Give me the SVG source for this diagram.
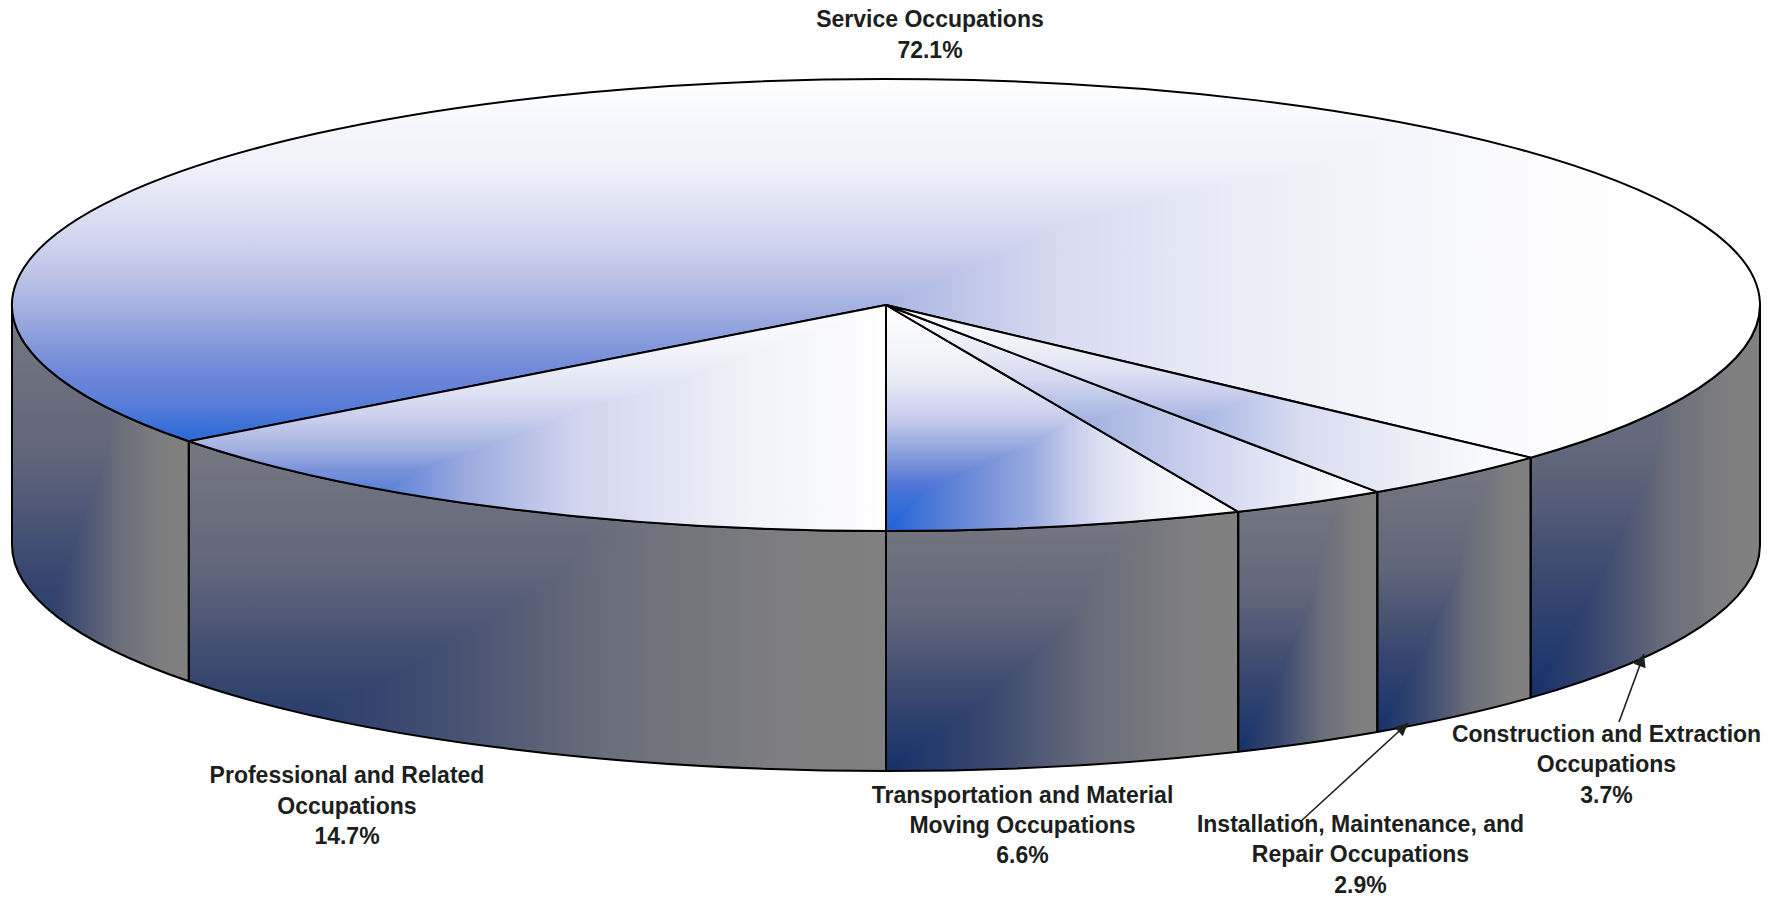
<svg xmlns="http://www.w3.org/2000/svg" xmlns:xlink="http://www.w3.org/1999/xlink" width="1782" height="898" viewBox="0 0 1782 898">
<style>
.lbl{font-family:"Liberation Sans",Arial,sans-serif;font-weight:bold;font-size:23px;fill:#1c201c;text-anchor:middle}
.edge{fill:none;stroke:#000;stroke-width:2;stroke-linejoin:round}
.iso{isolation:isolate}
.lt{mix-blend-mode:lighten}
.sv{fill:url(#sideV)}
.sh{fill:url(#sideH)}
.lead{stroke:#1c201c;stroke-width:1.6;fill:none;marker-end:url(#arr)}
</style>
<defs>
<path id="fSR" d="M1760,305 A874,226 0 0 1 1530.7,457.6 L1530.7,697.6 A874,226 0 0 0 1760,545 Z"/>
<path id="fC" d="M1530.7,457.6 A874,226 0 0 1 1377.3,491.9 L1377.3,731.9 A874,226 0 0 0 1530.7,697.6 Z"/>
<path id="fI" d="M1377.3,491.9 A874,226 0 0 1 1238.2,511.8 L1238.2,751.8 A874,226 0 0 0 1377.3,731.9 Z"/>
<path id="fT" d="M1238.2,511.8 A874,226 0 0 1 886,531 L886,771 A874,226 0 0 0 1238.2,751.8 Z"/>
<path id="fP" d="M886,531 A874,226 0 0 1 188.8,441.3 L188.8,681.3 A874,226 0 0 0 886,771 Z"/>
<path id="fSL" d="M188.8,441.3 A874,226 0 0 1 12,305 L12,545 A874,226 0 0 0 188.8,681.3 Z"/>
<path id="tS" d="M886,305 L1530.7,457.6 A874,226 0 1 0 188.8,441.3 Z"/>
<path id="tP" d="M886,305 L188.8,441.3 A874,226 0 0 0 886,531 Z"/>
<path id="tT" d="M886,305 L886,531 A874,226 0 0 0 1238.2,511.8 Z"/>
<path id="tI" d="M886,305 L1238.2,511.8 A874,226 0 0 0 1377.3,491.9 Z"/>
<path id="tC" d="M886,305 L1377.3,491.9 A874,226 0 0 0 1530.7,457.6 Z"/>

<linearGradient id="sideH" x1="0" y1="0" x2="1" y2="0">
<stop offset="0" stop-color="#15316a"/>
<stop offset="0.3" stop-color="#3a4870"/>
<stop offset="0.6" stop-color="#6a6e7a"/>
<stop offset="0.85" stop-color="#7e7e80"/>
<stop offset="1" stop-color="#808080"/>
</linearGradient>
<linearGradient id="sideV" x1="0" y1="1" x2="0" y2="0">
<stop offset="0" stop-color="#15316a"/>
<stop offset="0.3" stop-color="#3a4870"/>
<stop offset="0.6" stop-color="#60667a"/>
<stop offset="1" stop-color="#767880"/>
</linearGradient>

<linearGradient id="sV" gradientUnits="userSpaceOnUse" x1="0" y1="531" x2="0" y2="79">
<stop offset="0" stop-color="#1a5fd6"/>
<stop offset="0.201" stop-color="#2a68d6"/>
<stop offset="0.283" stop-color="#5a7ed8"/>
<stop offset="0.356" stop-color="#7088d8"/>
<stop offset="0.429" stop-color="#8a9edc"/>
<stop offset="0.504" stop-color="#a8b4e2"/>
<stop offset="0.577" stop-color="#c0c6e8"/>
<stop offset="0.65" stop-color="#d2d6ef"/>
<stop offset="0.8" stop-color="#eff0f9"/>
<stop offset="0.947" stop-color="#fafbfd"/>
<stop offset="1" stop-color="#ffffff"/>
</linearGradient>
<linearGradient id="sH" gradientUnits="userSpaceOnUse" x1="12" y1="0" x2="1760" y2="0">
<stop offset="0" stop-color="#1a5fd6"/>
<stop offset="0.222" stop-color="#4a78d8"/>
<stop offset="0.394" stop-color="#8096da"/>
<stop offset="0.497" stop-color="#a8b4e2"/>
<stop offset="0.595" stop-color="#d6daf0"/>
<stop offset="0.693" stop-color="#e9ebf6"/>
<stop offset="0.792" stop-color="#f5f6fb"/>
<stop offset="0.891" stop-color="#fdfdfe"/>
<stop offset="0.966" stop-color="#ffffff"/>
</linearGradient>

<linearGradient id="pV" gradientUnits="userSpaceOnUse" x1="0" y1="531" x2="0" y2="305">
<stop offset="0" stop-color="#1f62d8"/>
<stop offset="0.137" stop-color="#4a78d8"/>
<stop offset="0.27" stop-color="#7a92da"/>
<stop offset="0.358" stop-color="#a0b0e0"/>
<stop offset="0.49" stop-color="#c8cdec"/>
<stop offset="0.624" stop-color="#e0e3f3"/>
<stop offset="0.8" stop-color="#f2f3f9"/>
<stop offset="1" stop-color="#ffffff"/>
</linearGradient>
<linearGradient id="pH" gradientUnits="userSpaceOnUse" x1="188" y1="0" x2="886" y2="0">
<stop offset="0" stop-color="#1f62d8"/>
<stop offset="0.28" stop-color="#5a80d8"/>
<stop offset="0.39" stop-color="#98a8de"/>
<stop offset="0.553" stop-color="#d0d4ee"/>
<stop offset="0.8" stop-color="#f0f2f8"/>
<stop offset="0.964" stop-color="#fcfcfe"/>
<stop offset="1" stop-color="#ffffff"/>
</linearGradient>

<linearGradient id="trV" gradientUnits="userSpaceOnUse" x1="0" y1="531" x2="0" y2="305">
<stop offset="0" stop-color="#1f62d8"/>
<stop offset="0.137" stop-color="#3a70d8"/>
<stop offset="0.212" stop-color="#5578d6"/>
<stop offset="0.358" stop-color="#90a4dc"/>
<stop offset="0.504" stop-color="#c8cdec"/>
<stop offset="0.655" stop-color="#e6e8f4"/>
<stop offset="0.8" stop-color="#f4f5fa"/>
<stop offset="1" stop-color="#ffffff"/>
</linearGradient>
<linearGradient id="trH" gradientUnits="userSpaceOnUse" x1="886" y1="0" x2="1238" y2="0">
<stop offset="0" stop-color="#1f62d8"/>
<stop offset="0.125" stop-color="#4a78d8"/>
<stop offset="0.23" stop-color="#6a88d8"/>
<stop offset="0.418" stop-color="#9aabe0"/>
<stop offset="0.514" stop-color="#c0c8ea"/>
<stop offset="0.608" stop-color="#dcdff2"/>
<stop offset="0.75" stop-color="#f0f1f8"/>
<stop offset="1" stop-color="#ffffff"/>
</linearGradient>

<linearGradient id="iV" gradientUnits="userSpaceOnUse" x1="0" y1="512" x2="0" y2="305">
<stop offset="0" stop-color="#1f62d8"/>
<stop offset="0.155" stop-color="#4a78d8"/>
<stop offset="0.348" stop-color="#8aa0dc"/>
<stop offset="0.493" stop-color="#b0bce4"/>
<stop offset="0.638" stop-color="#d4d8ef"/>
<stop offset="0.831" stop-color="#eef0f8"/>
<stop offset="1" stop-color="#ffffff"/>
</linearGradient>
<linearGradient id="iH" gradientUnits="userSpaceOnUse" x1="886" y1="0" x2="1377" y2="0">
<stop offset="0" stop-color="#1f62d8"/>
<stop offset="0.232" stop-color="#7088d8"/>
<stop offset="0.436" stop-color="#a8b6e2"/>
<stop offset="0.64" stop-color="#ccd2ee"/>
<stop offset="0.843" stop-color="#eceef8"/>
<stop offset="1" stop-color="#ffffff"/>
</linearGradient>

<linearGradient id="cV" gradientUnits="userSpaceOnUse" x1="0" y1="492" x2="0" y2="305">
<stop offset="0" stop-color="#1f62d8"/>
<stop offset="0.171" stop-color="#5a80d8"/>
<stop offset="0.332" stop-color="#98a8de"/>
<stop offset="0.492" stop-color="#c0c8ea"/>
<stop offset="0.652" stop-color="#dfe2f2"/>
<stop offset="0.813" stop-color="#f2f3f9"/>
<stop offset="1" stop-color="#ffffff"/>
</linearGradient>
<linearGradient id="cH" gradientUnits="userSpaceOnUse" x1="886" y1="0" x2="1531" y2="0">
<stop offset="0" stop-color="#1f62d8"/>
<stop offset="0.332" stop-color="#7a92da"/>
<stop offset="0.487" stop-color="#a8b8e4"/>
<stop offset="0.642" stop-color="#d8dcf0"/>
<stop offset="0.874" stop-color="#f4f5fa"/>
<stop offset="1" stop-color="#ffffff"/>
</linearGradient>

<marker id="arr" viewBox="0 0 10 10" refX="10" refY="5" markerWidth="9" markerHeight="8" markerUnits="strokeWidth" orient="auto">
<path d="M0,0 L10,5 L0,10 Z" fill="#1c201c"/>
</marker>
</defs>

<g id="sides">
<g class="iso"><use xlink:href="#fSR" class="sv"/><use xlink:href="#fSR" class="sh lt"/></g>
<g class="iso"><use xlink:href="#fC" class="sv"/><use xlink:href="#fC" class="sh lt"/></g>
<g class="iso"><use xlink:href="#fI" class="sv"/><use xlink:href="#fI" class="sh lt"/></g>
<g class="iso"><use xlink:href="#fT" class="sv"/><use xlink:href="#fT" class="sh lt"/></g>
<g class="iso"><use xlink:href="#fP" class="sv"/><use xlink:href="#fP" class="sh lt"/></g>
<g class="iso"><use xlink:href="#fSL" class="sv"/><use xlink:href="#fSL" class="sh lt"/></g>
<use xlink:href="#fSR" class="edge"/>
<use xlink:href="#fC" class="edge"/>
<use xlink:href="#fI" class="edge"/>
<use xlink:href="#fT" class="edge"/>
<use xlink:href="#fP" class="edge"/>
<use xlink:href="#fSL" class="edge"/>
</g>

<g id="service">
<g class="iso"><use xlink:href="#tS" fill="url(#sV)"/><use xlink:href="#tS" class="lt" fill="url(#sH)"/></g>
<use xlink:href="#tS" class="edge"/>
<text class="lbl" x="930" y="27">Service Occupations</text>
<text class="lbl" x="930" y="58">72.1%</text>
</g>
<g id="professional">
<g class="iso"><use xlink:href="#tP" fill="url(#pV)"/><use xlink:href="#tP" class="lt" fill="url(#pH)"/></g>
<use xlink:href="#tP" class="edge"/>
<text class="lbl" x="347" y="783">Professional and Related</text>
<text class="lbl" x="347" y="813.5">Occupations</text>
<text class="lbl" x="347" y="844">14.7%</text>
</g>
<g id="transportation">
<g class="iso"><use xlink:href="#tT" fill="url(#trV)"/><use xlink:href="#tT" class="lt" fill="url(#trH)"/></g>
<use xlink:href="#tT" class="edge"/>
<text class="lbl" x="1022.5" y="803">Transportation and Material</text>
<text class="lbl" x="1022.5" y="833">Moving Occupations</text>
<text class="lbl" x="1022.5" y="863">6.6%</text>
</g>
<g id="installation">
<g class="iso"><use xlink:href="#tI" fill="url(#iV)"/><use xlink:href="#tI" class="lt" fill="url(#iH)"/></g>
<use xlink:href="#tI" class="edge"/>
<text class="lbl" x="1360.5" y="831.5">Installation, Maintenance, and</text>
<text class="lbl" x="1360.5" y="861.5">Repair Occupations</text>
<text class="lbl" x="1360.5" y="892.5">2.9%</text>
</g>
<g id="construction">
<g class="iso"><use xlink:href="#tC" fill="url(#cV)"/><use xlink:href="#tC" class="lt" fill="url(#cH)"/></g>
<use xlink:href="#tC" class="edge"/>
<text class="lbl" x="1606.5" y="741.5">Construction and Extraction</text>
<text class="lbl" x="1606.5" y="772.3">Occupations</text>
<text class="lbl" x="1606.5" y="803.3">3.7%</text>
</g>

<g id="connectors">
<line class="lead" x1="1300" y1="822" x2="1408" y2="723"/>
<line class="lead" x1="1619" y1="722" x2="1644" y2="654"/>
</g>
</svg>
